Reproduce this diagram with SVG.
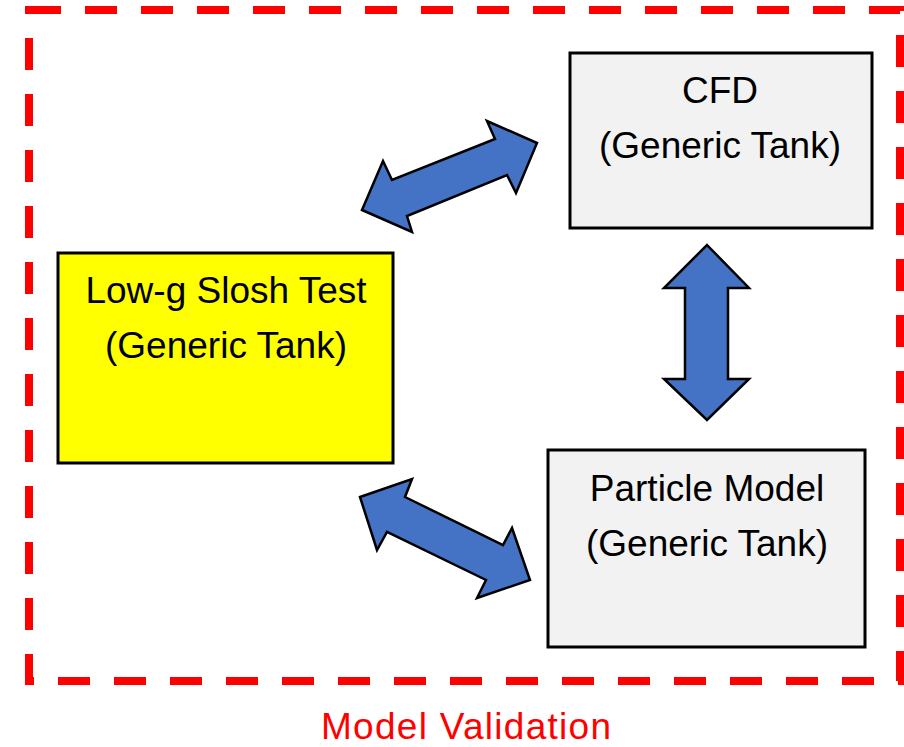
<svg xmlns="http://www.w3.org/2000/svg" width="904" height="747" viewBox="0 0 904 747">
<style>
.box{stroke:#000;stroke-width:3}
.lbl{font-family:"Liberation Sans",Arial,sans-serif;font-size:37px;fill:#000;text-anchor:middle}
.arr{fill:#4472c4;stroke:#000;stroke-width:2.5;stroke-linejoin:miter}
</style>
<rect width="904" height="747" fill="#fff"/>
<g id="frame">
<rect x="29" y="10" width="871" height="671" fill="none" stroke="#ff0000" stroke-width="8" stroke-dasharray="32 24"/>
<text x="466" y="739" class="lbl" style="fill:#ff0000;font-size:37px" textLength="290" lengthAdjust="spacing">Model Validation</text>
</g>
<g id="connectors">
<polygon class="arr" points="362,210 383,161 392,180 495,139 487,121 537,143 516,193 507,175 407,216 412,232"/>
<polygon class="arr" points="707,245 749,288 728,288 728,379 749,379 707,420 664,379 685,379 685,288 664,288"/>
<polygon class="arr" points="360,497 412,479 405,497 503,545 512,528 530,580 477,598 486,580 387,532 377,550"/>
</g>
<g id="slosh-test">
<rect class="box" x="58" y="253" width="335" height="210" fill="#ffff00"/>
<text class="lbl" x="226" y="303">Low-g Slosh Test</text>
<text class="lbl" x="226" y="358">(Generic Tank)</text>
</g>
<g id="cfd">
<rect class="box" x="570" y="53" width="302" height="175" fill="#f2f2f2"/>
<text class="lbl" x="720" y="103">CFD</text>
<text class="lbl" x="720" y="158">(Generic Tank)</text>
</g>
<g id="particle-model">
<rect class="box" x="548" y="450" width="317" height="197" fill="#f2f2f2"/>
<text class="lbl" x="707" y="501">Particle Model</text>
<text class="lbl" x="707" y="556">(Generic Tank)</text>
</g>
</svg>
